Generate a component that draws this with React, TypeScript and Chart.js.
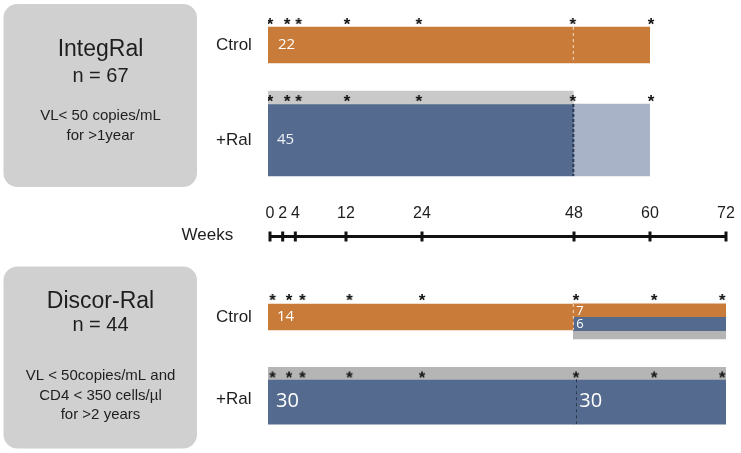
import React, { useEffect, useRef } from "react";
import { Chart, registerables } from "chart.js";

Chart.register(...registerables);

// ---------------- data ----------------
const weekTicks = [0, 2, 4, 12, 24, 48, 60, 72];
const weekTickLabels = ["0", "2", "4", "12", "24", "48", "60", "72"];
const axisTitle = "Weeks";
const armLabels = ["Ctrol", "+Ral"];

// IntegRal study
const integralTitle = "IntegRal";
const integralSize = "n = 67";
const integralCriteria = ["VL< 50 copies/mL", "for >1year"];
const integralCtrolWeeks = [0, 60];
const integralCtrolN = 22;
const integralRalWeeks = [0, 48];
const integralRalN = 45;
const integralRalAfterWeeks = [48, 60];
const integralSampledWeeks = [0, 48];
const integralStarWeeks = [0.3, 3.0, 4.8, 12.4, 23.7, 47.9, 60.2];
const integralSwitchWeek = 48;

// Discor-Ral study
const discorTitle = "Discor-Ral";
const discorSize = "n = 44";
const discorCriteria = ["VL < 50copies/mL and", "CD4 < 350 cells/µl", "for >2 years"];
const discorCtrolWeeks = [0, 48];
const discorCtrolN = 14;
const discorCtrolStayWeeks = [48, 72];
const discorCtrolStayN = 7;
const discorCtrolSwitchWeeks = [48, 72];
const discorCtrolSwitchN = 6;
const discorCtrolOtherWeeks = [48, 72];
const discorRalWeeks = [0, 48];
const discorRalN = 30;
const discorRalLaterWeeks = [48, 72];
const discorRalLaterN = 30;
const discorSampledWeeks = [0, 72];
const discorStarWeeks = [0.7, 3.3, 5.4, 12.8, 24.2, 48.4, 60.7, 71.4];
const discorSwitchWeek = 48;

// ---------------- layout / style ----------------
const W = 741;
const H = 453;
const AREA_L = 268;
const AREA_R = 726;

const ORANGE = "#C97B3A";
const BLUE = "#546B8F";
const LIGHT_BLUE = "#A9B3C7";
const GRAY_TOP = "#C9C9C9";
const GRAY_BOTTOM = "#B5B5B5";
const BOX_GRAY = "#D0D0D0";
const TEXT = "#1E1E1E";
const SANS = "'Liberation Sans', Arial, sans-serif";
const NUM_FONT = "'Open Sans', 'Noto Sans', sans-serif";

// row bands in canvas pixel units (y scale = pixels)
const R = {
  iCtrol: { c: 45, h: 36 },
  iStrip: { c: 97.5, h: 13 },
  iRal: { c: 140, h: 72 },
  dCtrol: { c: 317, h: 26 },
  dCtrolA: { c: 310.3, h: 12.8 },
  dCtrolB: { c: 323.7, h: 14 },
  dCtrolC: { c: 334.8, h: 8.4 },
  dStrip: { c: 373.3, h: 12 },
  dRal: { c: 401.7, h: 44.8 },
};
const STAR_Y = { iCtrol: 20, iRal: 97, dCtrol: 296, dRal: 373.5 };

function bar(label: string, weeks: number[], row: { c: number; h: number }, color: string, extra: any = {}) {
  return {
    type: "bar",
    label,
    indexAxis: "y",
    xAxisID: "x",
    yAxisID: "y",
    stack: "all",
    data: [{ x: [weeks[0], weeks[1]], y: row.c }],
    backgroundColor: color,
    borderWidth: 0,
    barThickness: row.h,
    order: 3,
    ...extra,
  };
}

function dashed(label: string, week: number, y0: number, y1: number, color: string, width: number, dash: number[]) {
  return {
    type: "line",
    label,
    xAxisID: "x",
    yAxisID: "y",
    data: [{ x: week, y: y0 }, { x: week, y: y1 }],
    borderColor: color,
    borderWidth: width,
    borderDash: dash,
    pointRadius: 0,
    fill: false,
    order: 2,
  };
}

function stars(label: string, weeks: number[], y: number, style: any) {
  return {
    type: "scatter",
    label,
    xAxisID: "x",
    yAxisID: "y",
    data: weeks.map((w) => ({ x: w, y })),
    pointStyle: style,
    pointRadius: 4,
    order: 1,
  };
}

function makeStar(): HTMLCanvasElement {
  const c = document.createElement("canvas");
  c.width = 14;
  c.height = 14;
  const g = c.getContext("2d")!;
  g.fillStyle = "#111";
  g.font = `bold 17px ${SANS}`;
  g.textAlign = "center";
  g.textBaseline = "alphabetic";
  g.fillText("*", 7, 16.8);
  return c;
}

const diagramPlugin = {
  id: "diagram",
  beforeDatasetsDraw(chart: any) {
    const ctx: CanvasRenderingContext2D = chart.ctx;
    ctx.save();
    const box = (y: number, h: number) => {
      ctx.fillStyle = BOX_GRAY;
      ctx.beginPath();
      (ctx as any).roundRect(3.5, y, 193.5, h, 14);
      ctx.fill();
    };
    box(4, 183);
    box(266.5, 182);
    ctx.fillStyle = TEXT;
    ctx.textAlign = "center";
    ctx.textBaseline = "middle";
    const cx = 100.5;
    ctx.font = `23px ${SANS}`;
    ctx.fillText(integralTitle, cx, 50);
    ctx.font = `20px ${SANS}`;
    ctx.fillText(integralSize, cx, 76.5);
    ctx.font = `15px ${SANS}`;
    integralCriteria.forEach((t, i) => ctx.fillText(t, cx, 115.5 + i * 20.5));

    ctx.font = `23px ${SANS}`;
    ctx.fillText(discorTitle, cx, 302);
    ctx.font = `20px ${SANS}`;
    ctx.fillText(discorSize, cx, 325);
    ctx.font = `15px ${SANS}`;
    discorCriteria.forEach((t, i) => ctx.fillText(t, cx, 376 + i * 19.5));

    ctx.textAlign = "left";
    ctx.font = `17px ${SANS}`;
    ctx.fillText(armLabels[0], 216, 45);
    ctx.fillText(armLabels[1], 216, 140);
    ctx.fillText(armLabels[0], 216, 317);
    ctx.fillText(armLabels[1], 216, 399);

    // weeks axis drawn with the x scale
    const xs = chart.scales.x;
    const ay = 236.5;
    const shift = 2; // axis sits with the Discor-Ral timeline
    ctx.strokeStyle = "#111";
    ctx.lineWidth = 3;
    ctx.beginPath();
    ctx.moveTo(xs.getPixelForValue(weekTicks[0]) + shift, ay);
    ctx.lineTo(xs.getPixelForValue(weekTicks[weekTicks.length - 1]), ay);
    ctx.stroke();
    ctx.font = `16px ${SANS}`;
    ctx.textAlign = "center";
    weekTicks.forEach((w, i) => {
      const px = xs.getPixelForValue(w) + shift * (1 - w / 72);
      ctx.beginPath();
      ctx.moveTo(px, ay - 5);
      ctx.lineTo(px, ay + 5);
      ctx.stroke();
      ctx.fillText(weekTickLabels[i], px, 214);
    });
    ctx.textAlign = "left";
    ctx.font = `17px ${SANS}`;
    ctx.fillText(axisTitle, 181.5, 235);
    ctx.restore();
  },
  afterDatasetsDraw(chart: any) {
    const ctx: CanvasRenderingContext2D = chart.ctx;
    ctx.save();
    ctx.textAlign = "left";
    ctx.textBaseline = "middle";
    chart.data.datasets.forEach((ds: any, i: number) => {
      if (ds.countLabel === undefined) return;
      const meta = chart.getDatasetMeta(i);
      const el: any = meta.data[0];
      if (!el) return;
      const { x, base, y } = el.getProps(["x", "base", "y"], true);
      ctx.fillStyle = ds.countColor || "#fff";
      ctx.font = `${ds.countSize}px ${NUM_FONT}`;
      ctx.fillText(String(ds.countLabel), Math.min(x, base) + ds.countPad, y + (ds.countDy || 0));
    });
    ctx.restore();
  },
};

export default function App() {
  const ref = useRef<HTMLCanvasElement | null>(null);
  useEffect(() => {
    if (!ref.current) return;
    const star = makeStar();

    const datasets: any[] = [
      stars("IntegRal Ctrol visits", integralStarWeeks, STAR_Y.iCtrol, star),
      stars("IntegRal +Ral visits", integralStarWeeks, STAR_Y.iRal, star),
      stars("Discor-Ral Ctrol visits", discorStarWeeks, STAR_Y.dCtrol, star),
      stars("Discor-Ral +Ral visits", discorStarWeeks, STAR_Y.dRal, star),
      dashed("IntegRal Ctrol w48", integralSwitchWeek, R.iCtrol.c - R.iCtrol.h / 2, R.iCtrol.c + R.iCtrol.h / 2, "rgba(255,236,215,0.85)", 1, [3, 3]),
      dashed("IntegRal +Ral w48", integralSwitchWeek, R.iRal.c - R.iRal.h / 2, R.iRal.c + R.iRal.h / 2, "#2B3850", 2, [3, 2]),
      dashed("Discor-Ral Ctrol w48", discorSwitchWeek, R.dCtrol.c - R.dCtrol.h / 2, R.dCtrol.c + R.dCtrol.h / 2, "rgba(255,236,215,0.85)", 1, [3, 3]),
      dashed("Discor-Ral +Ral w48", discorSwitchWeek + 0.5, R.dRal.c - R.dRal.h / 2, R.dRal.c + R.dRal.h / 2, "#2B3850", 1, [3, 3]),
      bar("IntegRal Ctrol", integralCtrolWeeks, R.iCtrol, ORANGE, { countLabel: integralCtrolN, countSize: 15, countPad: 10 }),
      bar("IntegRal sampled", integralSampledWeeks, R.iStrip, GRAY_TOP),
      bar("IntegRal +Ral", integralRalWeeks, R.iRal, BLUE, { countLabel: integralRalN, countSize: 15, countPad: 9, countColor: "#EEF1F6" }),
      bar("IntegRal +Ral after", integralRalAfterWeeks, R.iRal, LIGHT_BLUE),
      bar("Discor-Ral Ctrol", discorCtrolWeeks, R.dCtrol, ORANGE, { countLabel: discorCtrolN, countSize: 15, countPad: 9 }),
      bar("Discor-Ral Ctrol stay", discorCtrolStayWeeks, R.dCtrolA, ORANGE, { countLabel: discorCtrolStayN, countSize: 13, countPad: 3, countDy: 0.5 }),
      bar("Discor-Ral Ctrol switch", discorCtrolSwitchWeeks, R.dCtrolB, BLUE, { countLabel: discorCtrolSwitchN, countSize: 13, countPad: 3, countDy: 0.5 }),
      bar("Discor-Ral Ctrol other", discorCtrolOtherWeeks, R.dCtrolC, GRAY_BOTTOM),
      bar("Discor-Ral sampled", discorSampledWeeks, R.dStrip, GRAY_BOTTOM),
      bar("Discor-Ral +Ral", discorRalWeeks, R.dRal, BLUE, { countLabel: discorRalN, countSize: 20, countPad: 8 }),
      bar("Discor-Ral +Ral later", discorRalLaterWeeks, R.dRal, BLUE, { countLabel: discorRalLaterN, countSize: 20, countPad: 6 }),
    ];

    const chart = new Chart(ref.current, {
      type: "bar",
      data: { datasets },
      options: {
        responsive: false,
        animation: false,
        events: [],
        layout: { autoPadding: false, padding: { left: AREA_L, right: W - AREA_R, top: 0, bottom: 0 } },
        plugins: { legend: { display: false }, tooltip: { enabled: false } },
        scales: {
          x: { type: "linear", axis: "x", display: false, min: 0, max: 72, offset: false, stacked: false },
          y: { type: "linear", axis: "y", display: false, min: 0, max: H, reverse: true, offset: false },
        },
      } as any,
      plugins: [diagramPlugin],
    } as any);
    return () => chart.destroy();
  }, []);

  return (
    <div style={{ position: "absolute", left: 0, top: 0, width: W, height: H, background: "#fff" }}>
      <canvas ref={ref} width={W} height={H} style={{ width: W, height: H, display: "block" }} />
    </div>
  );
}
